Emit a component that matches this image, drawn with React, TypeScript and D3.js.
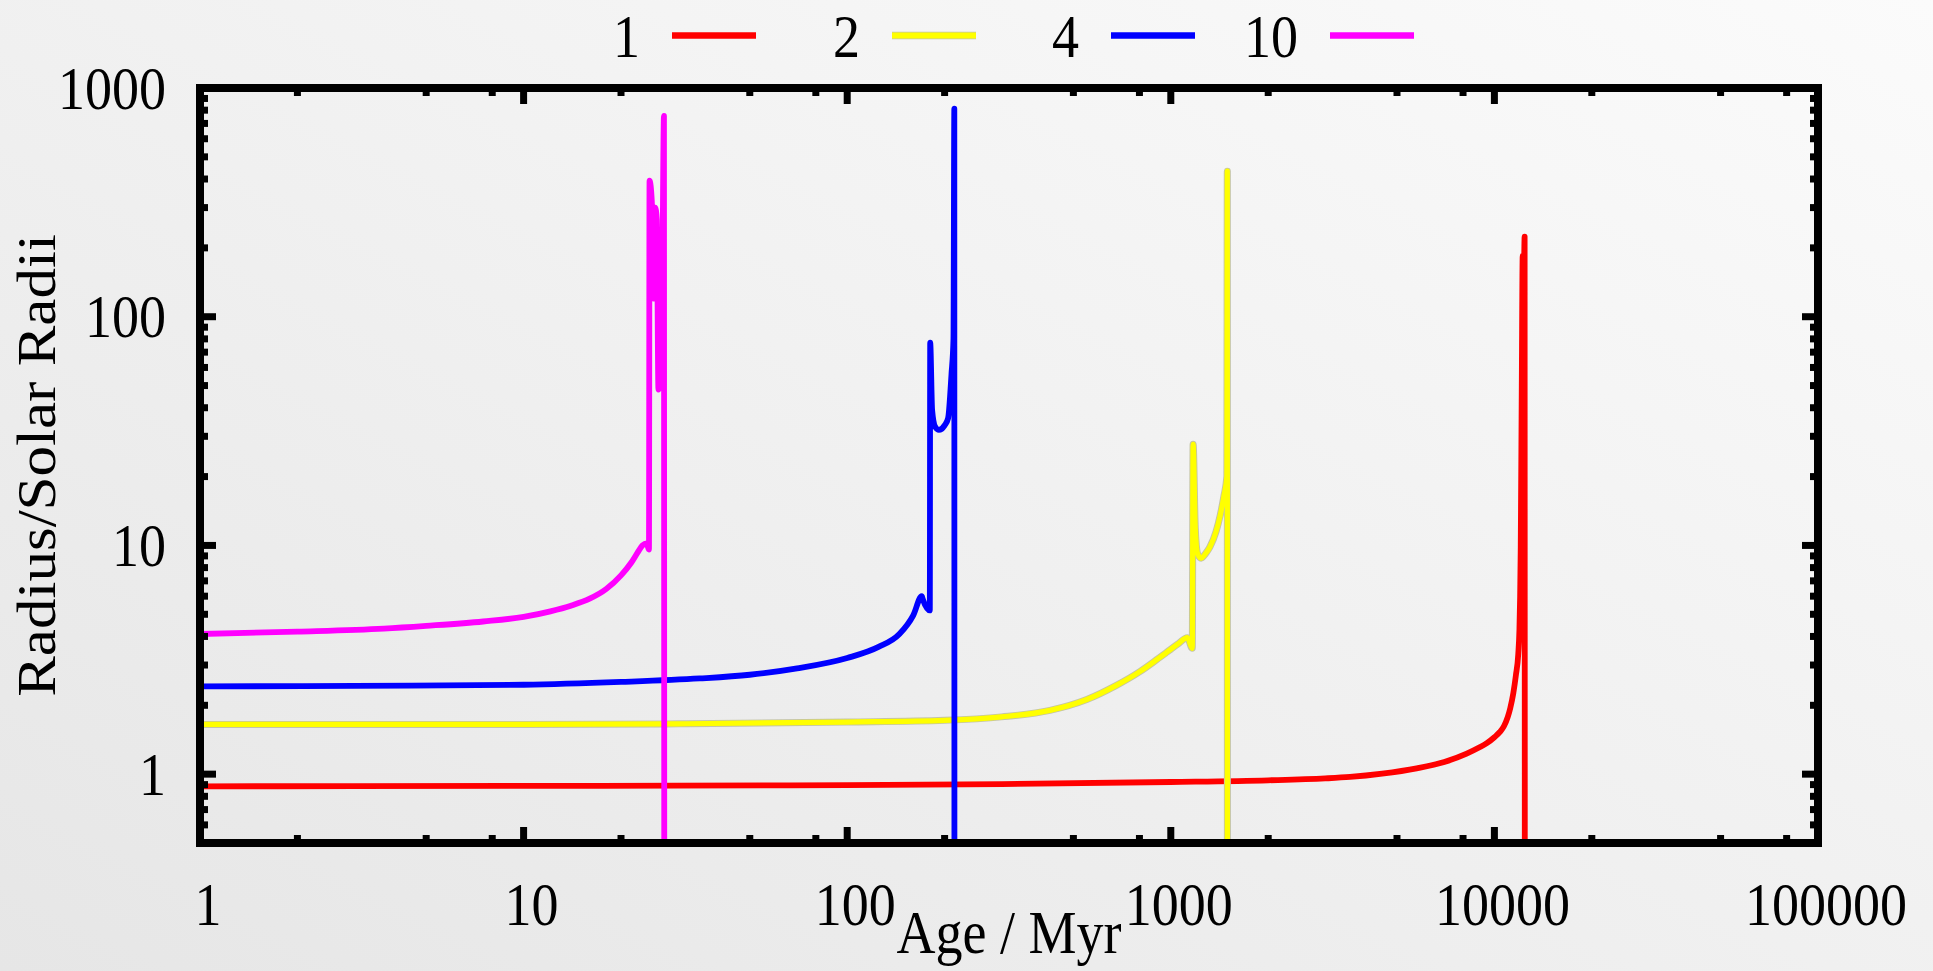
import React from 'react';
import * as d3 from 'd3';

const W = 1933;
const H = 971;

const seriesNames = ['1', '2', '4', '10'];
const seriesColors = ['#ff0000', '#ffff00', '#0000ff', '#ff00ff'];

// [age (Myr), radius (solar radii)]
const star1: [number, number][] = [
  [1, 0.885], [3, 0.886], [10, 0.888], [30, 0.891], [100, 0.895], [300, 0.905],
  [1000, 0.924], [2000, 0.94], [3000, 0.958], [3580, 0.972], [4500, 1.005],
  [5750, 1.06], [7000, 1.13], [8210, 1.23], [9000, 1.31], [9500, 1.37],
  [10000, 1.45], [10400, 1.53], [10700, 1.62], [11000, 1.78], [11200, 1.95],
  [11440, 2.26], [11650, 2.7], [11850, 3.35], [11950, 4.3], [12010, 6.0],
  [12060, 9.8], [12150, 50], [12230, 185], [12300, 120], [12400, 224], [12430, 0.001],
];
const star2: [number, number][] = [
  [1, 1.65], [10, 1.65], [30, 1.66], [100, 1.69], [200, 1.72], [300, 1.78],
  [423, 1.9], [550, 2.12], [681, 2.45], [800, 2.8], [900, 3.15], [971, 3.41],
  [1050, 3.7], [1125, 3.95], [1165, 3.55], [1172, 27.7], [1190, 12], [1210, 9.2],
  [1240, 8.8], [1280, 9.2], [1321, 9.85], [1380, 11.5], [1419, 13.4], [1460, 16.5],
  [1490, 20], [1495, 433], [1497, 0.001],
];
const star4: [number, number][] = [
  [1, 2.42], [3, 2.43], [10, 2.46], [20, 2.53], [35, 2.62], [50, 2.72], [70, 2.9],
  [100, 3.22], [125, 3.6], [145, 4.1], [160, 4.95], [170, 6.0], [171, 5.85], [180, 5.2],
  [180.5, 77], [183, 39], [187, 33], [192, 32], [200, 33.5], [205, 36], [210, 56],
  [213, 80], [214.3, 812], [214.6, 0.001],
];
const star10: [number, number][] = [
  [1, 4.1], [2, 4.2], [3.7, 4.33], [5, 4.45], [7.5, 4.65], [10, 4.87],
  [12.1, 5.15], [14, 5.45], [16, 5.85], [18, 6.45], [20, 7.4], [21.5, 8.4],
  [22.5, 9.3], [23.3, 10.0], [24.0, 10.2], [24.4, 9.6], [24.5, 393], [24.9, 320],
  [25.2, 120], [25.5, 300], [25.8, 267], [26.1, 48], [26.8, 130], [27.15, 755],
  [27.25, 0.001],
];
const seriesData = [star1, star2, star4, star10];

const xTickValues = [1, 10, 100, 1000, 10000, 100000];
const xTickLabels = ['1', '10', '100', '1000', '10000', '100000'];
const yTickValues = [1, 10, 100, 1000];
const yTickLabels = ['1', '10', '100', '1000'];
const xMinorFactors = [2, 5, 8];
const yMinorFactors = [2, 3, 4, 5, 6, 7, 8, 9];

const xTitle = 'Age / Myr';
const yTitle = 'Radius/Solar Radii';

const FONT = "'Liberation Serif', 'Times New Roman', serif";
const FS = 54;
const SY = 1.13;

export default function App() {
  const left = 200, right = 1818, top = 88, bottom = 843;
  const x = d3.scaleLog().domain([1, 1e5]).range([left, right]);
  const y = d3.scaleLog().domain([0.5, 1000]).range([bottom, top]);
  const line = d3
    .line<[number, number]>()
    .x((d) => x(d[0]))
    .y((d) => y(d[1]))
    .curve(d3.curveMonotoneX);

  const xMinor: number[] = [];
  [1, 10, 100, 1000, 10000].forEach((d) => xMinorFactors.forEach((f) => xMinor.push(d * f)));
  const yMinor: number[] = [];
  [0.1, 1, 10, 100].forEach((d) =>
    yMinorFactors.forEach((f) => {
      const v = d * f;
      if (v > 0.5 + 1e-9 && v < 1000) yMinor.push(v);
    })
  );

  const majorLen = 16;
  const minorLen = 8;
  const tickW = 7;

  const legendTextEnd = [640, 860, 1079, 1298];
  const legendY = 35.5;
  const outline = '#c4c4a6';

  const txt = (tx: number, ty: number, s: string, anchor: string, key?: string) => (
    <text
      key={key}
      transform={`translate(${tx},${ty}) scale(1,${SY})`}
      fontFamily={FONT}
      fontSize={FS}
      textAnchor={anchor}
      fill="#000"
    >
      {s}
    </text>
  );

  return (
    <svg
      width={W}
      height={H}
      style={{ position: 'fixed', left: 0, top: 0, display: 'block' }}
      xmlns="http://www.w3.org/2000/svg"
    >
      <defs>
        <linearGradient id="bg" x1="0" y1="1" x2="1" y2="0">
          <stop offset="0" stopColor="#e6e6e6" />
          <stop offset="1" stopColor="#fbfbfb" />
        </linearGradient>
        <clipPath id="plotClip">
          <rect x={left} y={top} width={right - left} height={bottom - top} />
        </clipPath>
      </defs>
      <rect x={0} y={0} width={W} height={H} fill="url(#bg)" />

      {/* data */}
      <g clipPath="url(#plotClip)" fill="none" strokeLinejoin="round">
        {seriesData.map((data, i) => (
          <g key={i}>
            {i === 1 && <path d={line(data) || ''} stroke={outline} strokeWidth={7} />}
            <path d={line(data) || ''} stroke={seriesColors[i]} strokeWidth={i === 1 ? 5.2 : 5.8} />
          </g>
        ))}
      </g>

      {/* ticks */}
      <g stroke="#000" strokeWidth={tickW}>
        {xTickValues.map((v) => (
          <g key={'xM' + v}>
            <line x1={x(v)} x2={x(v)} y1={bottom} y2={bottom - majorLen} />
            <line x1={x(v)} x2={x(v)} y1={top} y2={top + majorLen} />
          </g>
        ))}
        {xMinor.map((v) => (
          <g key={'xm' + v}>
            <line x1={x(v)} x2={x(v)} y1={bottom} y2={bottom - minorLen} />
            <line x1={x(v)} x2={x(v)} y1={top} y2={top + minorLen} />
          </g>
        ))}
        {yTickValues.map((v) => (
          <g key={'yM' + v}>
            <line x1={left} x2={left + majorLen} y1={y(v)} y2={y(v)} />
            <line x1={right} x2={right - majorLen} y1={y(v)} y2={y(v)} />
          </g>
        ))}
        {yMinor.map((v) => (
          <g key={'ym' + v}>
            <line x1={left} x2={left + minorLen} y1={y(v)} y2={y(v)} />
            <line x1={right} x2={right - minorLen} y1={y(v)} y2={y(v)} />
          </g>
        ))}
      </g>

      {/* frame */}
      <rect
        x={left}
        y={top}
        width={right - left}
        height={bottom - top}
        fill="none"
        stroke="#000"
        strokeWidth={8}
      />

      {/* tick labels */}
      {xTickValues.map((v, i) => txt(x(v) + 8, 925, xTickLabels[i], 'middle', 'xl' + v))}
      {yTickValues.map((v, i) => txt(166, y(v) + 20.5, yTickLabels[i], 'end', 'yl' + v))}

      {/* axis titles */}
      {txt((left + right) / 2, 953, xTitle, 'middle')}
      <text
        transform={`translate(55,${(top + bottom) / 2}) scale(1,${SY}) rotate(-90)`}
        fontFamily={FONT}
        fontSize={FS}
        textAnchor="middle"
        fill="#000"
      >
        {yTitle}
      </text>

      {/* legend */}
      {seriesNames.map((n, i) => (
        <g key={'lg' + n}>
          {txt(legendTextEnd[i], 56.5, n, 'end')}
          {i === 1 && (
            <line
              x1={legendTextEnd[i] + 32}
              x2={legendTextEnd[i] + 116}
              y1={legendY}
              y2={legendY}
              stroke={outline}
              strokeWidth={7.5}
            />
          )}
          <line
            x1={legendTextEnd[i] + 32}
            x2={legendTextEnd[i] + 116}
            y1={legendY}
            y2={legendY}
            stroke={seriesColors[i]}
            strokeWidth={i === 1 ? 5.8 : 6.5}
          />
        </g>
      ))}
    </svg>
  );
}
